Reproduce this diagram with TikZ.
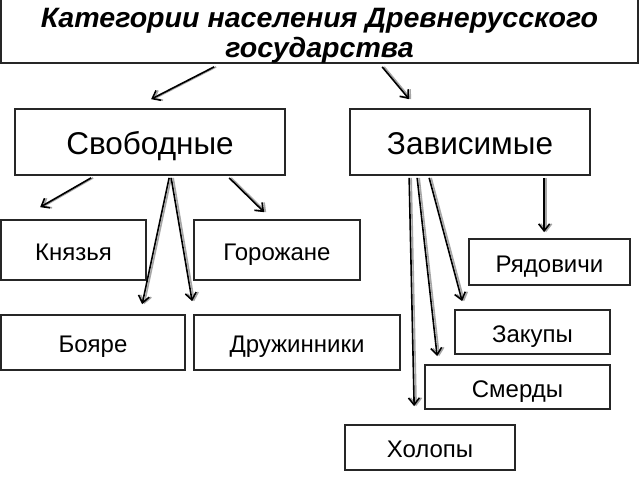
\documentclass[tikz,border=0pt]{standalone}
\usepackage{fontspec}
\usepackage{graphicx}
\setmainfont{Liberation Sans}
\usetikzlibrary{arrows.meta,calc}
\tikzset{
  box/.style={draw=black!85, line width=1.7pt, fill=white, inner sep=0pt, text height=20pt, text depth=0pt, font=\fontsize{24}{28}\selectfont},
  bigbox/.style={box, text height=25.5pt, font=\fontsize{31.5}{36}\selectfont},
  titlebox/.style={draw=black!85, line width=1.7pt, fill=white, inner sep=0pt},
  titletext/.style={anchor=base, inner sep=0pt, font=\fontsize{28}{32}\selectfont\bfseries\itshape},
  arr/.style={line width=1.6pt, black, -{Straight Barb[length=7pt,width=11pt,line width=1.6pt]},
    preaction={draw=black!35, line width=1.6pt, -{Straight Barb[length=7pt,width=11pt,line width=1.6pt]}, transform canvas={xshift=2pt}}}
}
\begin{document}
\begin{tikzpicture}[x=1pt,y=-1pt]
\useasboundingbox (0,0) rectangle (640,480);
\fill[white] (0,0) rectangle (640,480);
\node[titlebox, minimum width=637pt, minimum height=64pt] (title) at (319.5,31) {};
\node[titletext] (title1) at (319.5,27) {\scalebox{1.02}[1]{Категории населения Древнерусского}};
\node[titletext] (title2) at (319.5,57) {\scalebox{1.02}[1]{государства}};
\node[bigbox, minimum width=270pt, minimum height=66pt] (svob) at (150,142) {Свободные};
\node[bigbox, minimum width=240pt, minimum height=66pt] (zav) at (470,142) {Зависимые};
\node[box, minimum width=145pt, minimum height=60pt] (knyaz) at (73.5,250) {Князья};
\node[box, minimum width=166pt, minimum height=60pt] (gor) at (277,250) {Горожане};
\node[box, minimum width=184pt, minimum height=55pt] (boyar) at (93,342.5) {Бояре};
\node[box, minimum width=206pt, minimum height=55pt] (druzh) at (297,342.5) {Дружинники};
\node[box, minimum width=161pt, minimum height=46pt] (ryad) at (549.5,262) {Рядовичи};
\node[box, minimum width=155pt, minimum height=44pt] (zakup) at (532.5,332) {Закупы};
\node[box, minimum width=185pt, minimum height=44pt] (smerd) at (517.5,387) {Смерды};
\node[box, minimum width=170pt, minimum height=45pt] (holop) at (430,447.5) {Холопы};
% arrows
\draw[arr] ($(title.south west)+(214,3)$) -- ($(svob.north west)+(137,-9)$);
\draw[arr] ($(title.south west)+(382,3)$) -- ($(zav.north west)+(60,-9)$);
\draw[arr] ($(svob.south west)+(77,2)$) -- ($(knyaz.north west)+(40,-12)$);
\draw[arr] ($(svob.south west)+(215,2)$) -- ($(gor.north west)+(71,-7)$);
\draw[arr] ($(svob.south west)+(155,2)$) -- ($(boyar.north west)+(142,-10)$);
\draw[arr] ($(svob.south west)+(157,2)$) -- ($(druzh.north west)+(-1,-13)$);
\draw[arr] ($(zav.south west)+(195,2)$) -- ($(ryad.north west)+(76,-6)$);
\draw[arr] ($(zav.south west)+(60,2)$) -- ($(holop.north west)+(70,-18)$);
\draw[arr] ($(zav.south west)+(68,2)$) -- ($(smerd.north west)+(13,-8)$);
\draw[arr] ($(zav.south west)+(80,2)$) -- ($(zakup.north west)+(8,-8)$);
\end{tikzpicture}
\end{document}
